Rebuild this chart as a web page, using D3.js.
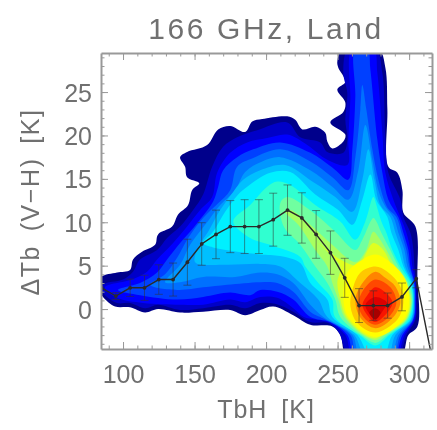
<!DOCTYPE html>
<html lang="en">
<head>
<meta charset="UTF-8">
<title>166 GHz, Land</title>
<script src="https://cdn.jsdelivr.net/npm/d3@7"></script>
<style>
    html, body { margin: 0; background: #fff; }
    svg { display: block; filter: blur(0.7px); }
    text { font-family: "Liberation Sans", sans-serif; fill: #707070; }
    .axis path, .axis line { stroke: #999; }
    .axis path { stroke-width: 2; }
</style>
</head>
<body>
<svg width="437" height="430"></svg>
<script>
// density contours, outermost first: [TbH, dTb]
var level1 = [[84,3.6],[95.8,4.2],[104.9,4.5],[107,5.7],[113.3,6.6],[122.4,7.4],[124.5,8.6],[134.3,9.5],[138.5,10.9],[145.5,12],[148.3,13.7],[153.3,14.5],[144.8,15.2],[143.4,16.4],[139.9,17.5],[144.8,18.1],[158.8,18.9],[166.5,20.7],[174.9,21.1],[185.4,20.4],[190.3,21.6],[197.3,21.9],[214.8,22.2],[220.4,21.8],[225.3,20.7],[234.4,21],[241.4,20.3],[242.8,19.3],[246.3,18.5],[254,19.3],[255.4,20.1],[244.9,21.5],[254,22.7],[255.4,23.8],[249.8,25.3],[255.4,26.2],[250.5,27.8],[249.8,28.5],[253.3,30],[278.5,30],[283.4,27.8],[284.8,23],[285.5,16.4],[291.8,15.7],[295.3,13.7],[296,11.1],[304.4,9.5],[305.8,3.7],[305.8,-2],[299.5,-3],[293.9,-5.5],[256.8,-5.5],[251.9,-3],[246.3,-2],[230.9,-1.8],[219,-0.7],[205,0.3],[195.9,-0.1],[185.4,-0.7],[174.9,-0.1],[156,-0.3],[139.9,-0.4],[124.5,0],[115.4,-0.4],[104.9,0.2],[94.4,0.3],[86,1.4],[84,2]];
var level2 = [[86,2.8],[100,3.4],[107,4.3],[111.9,5.7],[123.8,6.8],[130.8,8.2],[139.9,9.5],[149,11.4],[156,13.2],[162.3,16.4],[170,18.7],[179.8,19.8],[193.8,20.6],[214.8,21.5],[223.9,19.8],[237.9,19.2],[242.8,18.1],[254,18],[256.8,19.5],[255.4,21.8],[256.8,24.9],[254,27.2],[257.5,30],[276.4,30],[281.3,27.2],[283.4,19.5],[285.5,15.7],[293.9,12.6],[296,10.6],[300.9,8.8],[303,6.8],[303.7,4.9],[304.75,3],[305.1,1.1],[304.4,-1.2],[298.1,-3],[291.8,-5.5],[258.9,-5.5],[250.5,-2.6],[243.5,-1.6],[230.9,-1.5],[219,-0.3],[206.4,0.6],[195.9,0.7],[185.4,0.1],[174.9,0.5],[156,0.1],[139.9,-0.1],[124.5,0.5],[115.4,0.1],[104.9,0.7],[95.8,0.7],[86,1.9]];
var level3 = [[87.4,2.5],[106.3,3.4],[116.8,4.3],[123.8,5.7],[135,7.6],[144.8,9.5],[153.9,11.4],[162.3,12.9],[165.8,15.7],[174.9,18],[186.8,19.2],[200.8,19.7],[214.8,20.1],[228.8,18.9],[242.8,17.2],[256.8,16.6],[257.5,19.5],[258.9,24.1],[260.3,30],[275,30],[277.8,27.2],[281.3,20.3],[283.4,15.7],[289,12.6],[293.9,10.6],[298.1,8.8],[300.9,6.8],[302.3,4.9],[304.4,3],[304.75,1.1],[303.7,-1.2],[296.7,-3],[290.4,-5.5],[261,-5.5],[255.4,-3],[243.5,-1.5],[226.4,-0.9],[219,0.1],[207.8,1.3],[195.9,1.4],[185.4,0.8],[174.9,1.1],[156,0.5],[139.9,0.5],[114,0.7],[95.8,1.3]];
var level4 = [[96.5,2.2],[111.9,3],[123.8,4.2],[130.8,5.7],[139.9,7.6],[151.8,9.9],[163,12.4],[166.5,14.1],[170,16],[179.8,17.5],[191,18.4],[209.9,19.2],[230.9,18],[246.3,16.3],[257.5,14.9],[260.3,18.4],[262.4,24.5],[262.4,30],[270.8,30],[272.9,27.6],[277.8,19.5],[281.3,15.7],[285.5,12.6],[292.5,10.6],[296,8.8],[299.5,6.8],[300.9,4.9],[303.7,3],[304.4,1.1],[303,-1.2],[295.3,-3],[289,-5.5],[262.4,-5.5],[256.8,-3],[244.9,-1.5],[230.9,-0.9],[219,1.1],[207.8,2],[195.9,2.2],[188.9,1.6],[174.9,1.9],[156,1.4],[137.8,1.1],[111.9,1.6]];
var level5 = [[118.9,2.8],[129.4,4],[137.8,5.9],[144.8,8],[156,10.5],[166.5,12.2],[174.9,13.7],[179.8,16.4],[191,17.4],[209.9,18.4],[230.9,17],[246.3,15.2],[257.5,13.7],[262.4,17.5],[265.9,23],[267.3,25.8],[270.1,23],[274.3,18.4],[278.5,14.9],[284.8,11.7],[291.1,10.6],[294.6,8.8],[298.1,6.8],[300.2,4.9],[303.4,3],[304,1.1],[302.7,-1.2],[293.9,-3],[288.3,-5.5],[263.8,-5.5],[258.9,-3],[240,-1.1],[230.9,-0.3],[219,2],[207.8,3],[195.9,3.1],[172.8,2.8],[156,2.5],[137.8,2.2]];
var level6 = [[129.4,3.1],[139.9,5.1],[146.9,7.4],[157.4,9.7],[167.9,12],[178.4,13.7],[185.4,15.8],[197.3,17],[209.9,17.5],[230.9,16],[246.3,14.1],[257.5,12.6],[264.5,16],[269.4,21.2],[274.3,17.2],[278.5,13.7],[283.4,11.8],[289,10.6],[292.5,8.8],[296.7,6.8],[298.8,4.9],[303,3],[303.7,1.1],[302.3,-1.2],[292.5,-3],[286.9,-5.5],[265.9,-5.5],[260.3,-3],[240,-0.9],[230.9,0.5],[219,3],[207.8,4],[195.9,4.2],[178.4,3.7],[156,3.7],[139.9,3.1]];
var level7 = [[150.4,5.4],[152.5,7.1],[159.5,8.9],[167.9,11.4],[177,13.5],[184,14.9],[195.9,16],[213.4,16.6],[232.3,14.7],[248.4,12.9],[260.3,11.2],[267.3,14.9],[271.5,18.4],[275.7,14.9],[279.9,12],[286.9,10.6],[290.4,8.8],[294.6,6.8],[297.2,4.9],[302.3,3],[303.4,1.1],[301.6,-1.2],[290.4,-3],[284.8,-5.5],[269.4,-5.5],[261.7,-3],[242.8,-0.9],[236.5,1.1],[223.9,3],[209.9,4.9],[195.9,5.2],[171.4,5.1]];
var level8 = [[156,7.6],[163,8.9],[171.4,11.2],[180.5,13.2],[186.8,14.1],[202.9,15.7],[216.9,15.8],[234.4,13.2],[250.5,11.4],[260.3,9.7],[267.3,12.6],[272.9,15.5],[277.1,12.6],[284.8,10.6],[287.6,8.8],[292.5,6.8],[296,4.9],[301.6,3],[303,1.1],[301,-1.2],[288.3,-3],[282,-5.5],[272.9,-5.5],[263.8,-3],[246.3,-0.9],[242.8,1.1],[230.9,3],[223.9,5.3],[209.9,6.1],[195.9,6.3],[163,7.1]];
var level9 = [[177,10.1],[188.9,12],[200.8,14.1],[207.8,14.7],[216.9,14.3],[234.4,12],[251.9,10.1],[262.4,8],[269.4,10.1],[275,12.9],[277.1,12],[280.6,10.1],[284.1,8.8],[288.3,6.8],[293.9,4.9],[300.9,3],[302.6,1.1],[299.9,-1.2],[286.2,-3],[276.6,-4.2],[265.2,-3],[248.1,-0.9],[246.3,1.1],[236.5,3],[227.4,4.9],[223.9,6],[202.8,7.4],[188.9,8.2]];
var level10 = [[209.9,12.2],[214.8,12.9],[232.3,11.2],[248.4,8.9],[262.4,6.8],[267.3,8],[275,10.5],[277.1,10.1],[280.6,8.8],[286.9,6.8],[292.5,4.9],[299.5,3],[302.3,1.1],[298.8,-1.2],[284.8,-3],[276.5,-3.9],[266.6,-3],[251.9,-0.9],[248.4,1.1],[242.8,3],[234.4,4.9],[223.9,7.4],[212.4,9.5]];
var level11 = [[216.9,11.4],[230.9,9.7],[246.3,7.4],[262.4,5.4],[269.4,6.6],[275,8.9],[278.5,8.3],[284.1,6.8],[290.4,4.9],[298.1,3],[301.6,1.1],[298.1,-1.2],[282.7,-3],[276.5,-3.6],[268,-3],[254.7,-0.9],[250.5,1.1],[246.3,3],[242.8,4.9],[234.4,6.8],[222.5,9.7],[213.4,11.2]];
var level12 = [[236.5,7.6],[251.9,5.7],[264.5,5],[269.4,6.3],[275,7.6],[282,6.8],[288.3,4.9],[296.7,3],[300.9,1.1],[297.4,-1.2],[280.6,-3],[276.5,-3.4],[269.4,-3],[256.1,-0.9],[251.9,1.1],[249.8,3],[251.9,4.9],[244.9,6.3]];
var level13 = [[276.4,6.3],[289,5.1],[297.4,3.4],[300,1.4],[297.4,-0.9],[276.4,-3.2],[257.5,-0.9],[254,1.4],[256.8,4.2],[263.8,5.3]];
var level14 = [[276.4,4.9],[284.8,4.3],[293.9,2.6],[296,0.7],[291.8,-1.2],[276.4,-2.7],[263.8,-1.6],[259,0.3],[260.4,2.2],[266,4.2]];
var level15 = [[276.4,4.3],[283.4,3.6],[290.4,2.6],[293.9,0.8],[289,-0.9],[276.4,-2.2],[266,-1],[262.5,1.1],[267.4,3]];
var level16 = [[276.4,3.4],[286.9,2.5],[291.1,0.8],[286.9,-0.7],[276.4,-1.8],[268,-0.9],[264.5,0.7],[269.4,2.5]];
var level17 = [[276.4,2.5],[283.4,1.9],[288.3,0.8],[284.8,-0.4],[276.4,-1.5],[270.8,-0.7],[267.4,0.5],[270.8,1.6]];
var level18 = [[276.4,1.4],[284.8,0.7],[282,-0.1],[276.4,-1.2],[273,-0.7],[269.5,0.5]];
var level19 = [[276.4,0.1],[280,-0.4],[276.4,-1.2],[272.2,-0.4]];
var levels = [level1, level2, level3, level4, level5, level6, level7, level8, level9, level10,
    level11, level12, level13, level14, level15, level16, level17, level18, level19];
var levelColors = ['#00008b', '#0000c8', '#0000ff', '#0040ff', '#0070ff', '#0098ff', '#00c0ff', '#00f0ff', '#30ffd0', '#70ffa0',
    '#a8ff60', '#e0ff20', '#ffff00', '#ffc800', '#ff8400', '#ff4800', '#f81400', '#dc0000', '#a80000'];

// mean curve and spread per TbH bin
var tbh = [85, 95, 105, 115, 125, 135, 145, 155, 165, 175, 185, 195, 205, 215, 225, 235, 245, 255, 265, 275, 285, 295, 305, 315];
var meanDtb = [2.45, 1.5, 2.45, 2.45, 3.4, 3.4, 5.4, 7.5, 8.6, 9.5, 9.5, 9.5, 10.3, 11.4, 10.5, 8.6, 6.5, 3.6, 0.4, 0.4, 0.4, 1.4, 3.5, -4.8];
var sdDtb = [0, 0.4, 1, 1.45, 1.7, 1.9, 2.65, 2.45, 2.8, 3, 3.1, 3.1, 3.05, 2.9, 2.9, 2.75, 2.5, 2.25, 1.95, 1.7, 1.45, 1.6, 1.05, 0];

var xTicks = [100, 150, 200, 250, 300];
var yTicks = [0, 5, 10, 15, 20, 25];

var svg = d3.select('svg'),
    left = 101, right = 432, top_ = 53, bottom = 349;

var x = d3.scaleLinear().domain([84.6, 316]).range([left, right]),
    y = d3.scaleLinear().domain([-4.6, 29.5]).range([bottom, top_]);

svg.append('clipPath').attr('id', 'plot')
    .append('rect').attr('x', left).attr('y', top_).attr('width', right - left).attr('height', bottom - top_);

var plot = svg.append('g').attr('clip-path', 'url(#plot)');

var contour = d3.line()
    .x(function(d) { return x(d[0]); })
    .y(function(d) { return y(d[1]); })
    .curve(d3.curveCatmullRomClosed.alpha(0.5));

plot.selectAll('path.band')
    .data(levels)
    .enter().append('path')
    .attr('class', 'band')
    .attr('d', contour)
    .attr('fill', function(d, i) { return levelColors[i]; });

// error bars
var bars = tbh.map(function(t, i) { return [t, meanDtb[i], sdDtb[i]]; }).filter(function(d) { return d[2] > 0; });

var bar = plot.selectAll('g.bar').data(bars).enter().append('g')
    .attr('class', 'bar')
    .attr('stroke', '#333')
    .attr('stroke-opacity', 0.6)
    .attr('stroke-width', 0.9);
bar.append('line')
    .attr('x1', function(d) { return x(d[0]); }).attr('x2', function(d) { return x(d[0]); })
    .attr('y1', function(d) { return y(d[1] - d[2]); }).attr('y2', function(d) { return y(d[1] + d[2]); });
bar.append('line')
    .attr('x1', function(d) { return x(d[0]) - 4; }).attr('x2', function(d) { return x(d[0]) + 4; })
    .attr('y1', function(d) { return y(d[1] - d[2]); }).attr('y2', function(d) { return y(d[1] - d[2]); });
bar.append('line')
    .attr('x1', function(d) { return x(d[0]) - 4; }).attr('x2', function(d) { return x(d[0]) + 4; })
    .attr('y1', function(d) { return y(d[1] + d[2]); }).attr('y2', function(d) { return y(d[1] + d[2]); });

// mean line
plot.append('path')
    .attr('fill', 'none')
    .attr('stroke', '#2a2a2a')
    .attr('stroke-width', 1.4)
    .attr('d', d3.line()
        .x(function(d) { return x(d); })
        .y(function(d, i) { return y(meanDtb[i]); })(tbh));
plot.selectAll('circle.mean').data(tbh).enter().append('circle')
    .attr('class', 'mean')
    .attr('cx', function(d) { return x(d); })
    .attr('cy', function(d, i) { return y(meanDtb[i]); })
    .attr('r', 1.9)
    .attr('fill', '#2a2a2a');

// axes, ticks point inward on all four sides
function drawAxis(axisFn, scale, minor, major, len, lenMajor, tx, ty, labels) {
    var g = svg.append('g').attr('class', 'axis').attr('transform', 'translate(' + tx + ',' + ty + ')');
    g.call(axisFn(scale).tickValues(minor).tickSize(len).tickFormat('').tickSizeOuter(0));
    var g2 = svg.append('g').attr('class', 'axis').attr('transform', 'translate(' + tx + ',' + ty + ')');
    g2.call(axisFn(scale).tickValues(major).tickSize(lenMajor).tickSizeOuter(0)
        .tickFormat(labels ? d3.format('d') : ''));
    g2.select('.domain').remove();
    return g2;
}

var xMinor = d3.range(90, 316, 10),
    yMinor = d3.range(-4, 30, 1);

var gb = drawAxis(d3.axisBottom, x, xMinor, xTicks, -3.5, -7, 0, bottom, true);
drawAxis(d3.axisTop, x, xMinor, xTicks, -3.5, -7, 0, top_, false);
var gl = drawAxis(d3.axisLeft, y, yMinor, yTicks, -3.5, -7, left, 0, true);
drawAxis(d3.axisRight, y, yMinor, yTicks, -3.5, -7, right, 0, false);

gb.selectAll('text').attr('y', 16).attr('dy', '0.71em').style('font-size', '25px');
gl.selectAll('text').attr('x', -9).attr('dy', '0.36em').style('font-size', '25px');

svg.append('text')
    .attr('x', 266).attr('y', 39)
    .attr('text-anchor', 'middle')
    .style('font-size', '30px')
    .style('letter-spacing', '2.6px')
    .text('166 GHz, Land');

svg.append('text')
    .attr('x', 266).attr('y', 418)
    .attr('text-anchor', 'middle')
    .style('font-size', '25px')
    .style('letter-spacing', '1px')
    .style('word-spacing', '6px')
    .text('TbH [K]');

svg.append('text')
    .attr('transform', 'translate(39,202) rotate(-90)')
    .attr('text-anchor', 'middle')
    .style('font-size', '25px')
    .style('letter-spacing', '1.6px')
    .style('word-spacing', '5px')
    .text('ΔTb (V−H) [K]');
</script>
</body>
</html>
